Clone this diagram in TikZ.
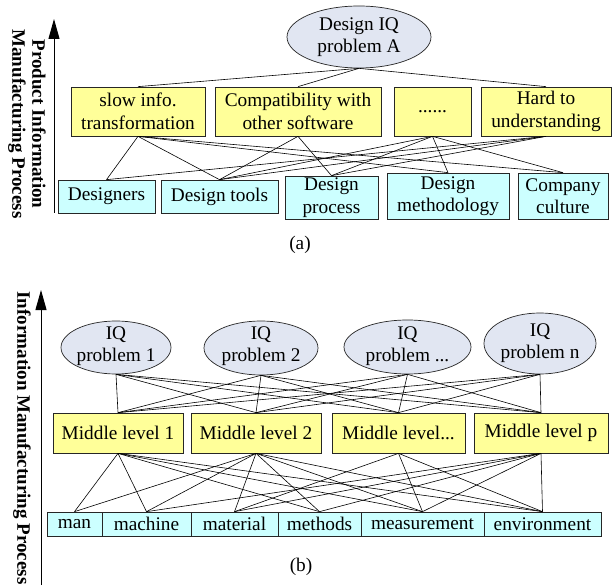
\documentclass[tikz,border=0pt]{standalone}
\usepackage{fontspec}
\setmainfont{Liberation Serif}
\usetikzlibrary{shapes.geometric,arrows.meta,shadows}
\definecolor{yelfill}{RGB}{255,255,153}
\definecolor{cyanfill}{RGB}{204,255,255}
\definecolor{ellfill}{RGB}{225,230,242}
\newcommand\mynf{\fontsize{19.3}{22.5}\selectfont}
\newcommand\mybf{\fontsize{19}{20}\selectfont\bfseries}
\tikzset{
  boxshadow/.style={drop shadow={shadow xshift=1.2pt,shadow yshift=-1.2pt,fill=black!55,opacity=0.7}},
  ybox/.style={draw=black!85,line width=0.7pt,fill=yelfill,inner sep=0pt,align=center,font=\mynf,boxshadow},
  cbox/.style={draw=black!85,line width=0.7pt,fill=cyanfill,inner sep=0pt,align=center,font=\mynf,boxshadow},
  ellnode/.style={ellipse,draw=black!85,line width=0.7pt,fill=ellfill,inner sep=0pt},
  txt/.style={inner sep=0pt,align=center,font=\mynf},
  conn/.style={line width=0.6pt,black},
  axisarrow/.style={line width=1pt,-{Triangle[length=20pt,width=11pt]}},
  vlabel/.style={inner sep=0pt,align=center,font=\mybf,rotate=-90}
}
\begin{document}
\begin{tikzpicture}[x=1pt,y=-1pt]
\useasboundingbox (0,0) rectangle (613,588);
\fill[white] (0,0) rectangle (613,588);

% ---------- part (a) ----------
\coordinate (aA0) at (54,213);
\coordinate (aA1) at (54,19);
\draw[axisarrow] (aA0) -- (aA1);
\node[vlabel] (alab) at (27,124) {Product Information\\Manufacturing Process};

\node[ellnode,minimum width=144pt,minimum height=62pt] (A) at (359,37) {};
\node[txt] (Atxt) at (359,37) {Design IQ\\problem A};

\node[ybox,minimum width=134pt,minimum height=49pt] (Y1) at (138,111.5) {slow info.\\transformation};
\node[ybox,minimum width=166pt,minimum height=49pt] (Y2) at (298,111.5) {Compatibility with\\other software};
\node[ybox,minimum width=77pt,minimum height=49pt] (Y3) at (432.5,111.5) {......};
\node[ybox,minimum width=130pt,minimum height=49pt] (Y4) at (546,111.5) {Hard to\\understanding};

\node[cbox,minimum width=97pt,minimum height=33pt] (C1) at (106.5,196.5) {Designers};
\node[cbox,minimum width=117pt,minimum height=33pt] (C2) at (219.5,196.5) {Design tools};
\node[cbox,minimum width=93pt,minimum height=43pt] (C3) at (331.5,197.5) {Design\\process};
\node[cbox,minimum width=122pt,minimum height=46pt] (C4) at (448,196) {Design\\methodology};
\node[cbox,minimum width=90pt,minimum height=46pt] (C5) at (563,196) {Company\\culture};

\foreach \y in {Y1,Y2,Y4} \draw[conn] (A.south) -- (\y.north);
\foreach \c in {C1,C2,C4,C5} \draw[conn] (Y1.south) -- (\c.north);
\foreach \c in {C2,C3} \draw[conn] (Y2.south) -- (\c.north);
\foreach \c in {C2,C3,C4,C5} \draw[conn] (Y3.south) -- (\c.north);
\foreach \c in {C1,C2,C3} \draw[conn] (Y4.south) -- (\c.north);

\node[txt] (acap) at (300,245) {(a)};

% ---------- part (b) ----------
\coordinate (bA0) at (41,585);
\coordinate (bA1) at (41,290);
\draw[axisarrow] (bA0) -- (bA1);
\node[vlabel] (blab) at (22,438) {Information Manufacturing Process};

\node[ellnode,minimum width=110pt,minimum height=53pt] (E1) at (116,347.5) {};
\node[ellnode,minimum width=114pt,minimum height=54pt] (E2) at (261,348) {};
\node[ellnode,minimum width=127pt,minimum height=54pt] (E3) at (407.5,347) {};
\node[ellnode,minimum width=112pt,minimum height=61pt] (E4) at (540,343.5) {};
\node[txt] (E1t) at (116,346) {IQ\\problem 1};
\node[txt] (E2t) at (261,346) {IQ\\problem 2};
\node[txt] (E3t) at (407.5,346) {IQ\\problem ...};
\node[txt] (E4t) at (540,343) {IQ\\problem n};

\node[ybox,minimum width=130pt,minimum height=40pt] (M1) at (118,433) {Middle level 1};
\node[ybox,minimum width=130pt,minimum height=40pt] (M2) at (256,433) {Middle level 2};
\node[ybox,minimum width=133pt,minimum height=40pt] (M3) at (398.5,433) {Middle level...};
\node[ybox,minimum width=134pt,minimum height=40pt] (M4) at (541,433) {Middle level p};

\node[cbox,minimum width=55pt,minimum height=24pt] (B1) at (74.5,524) {man};
\node[cbox,minimum width=89pt,minimum height=24pt] (B2) at (146.5,524) {machine};
\node[cbox,minimum width=87pt,minimum height=24pt] (B3) at (234.5,524) {material};
\node[cbox,minimum width=83pt,minimum height=24pt] (B4) at (319.5,524) {methods};
\node[cbox,minimum width=123pt,minimum height=24pt] (B5) at (422.5,524) {measurement};
\node[cbox,minimum width=117pt,minimum height=24pt] (B6) at (542.5,524) {environment};

\foreach \e in {E1,E2,E3,E4}
  \foreach \m in {M1,M2,M3,M4}
    \draw[conn] (\e.south) -- (\m.north);

\foreach \b in {B1,B2,B4,B5,B6} \draw[conn] (M1.south) -- (\b.north);
\foreach \b in {B1,B2,B3,B4,B5,B6} \draw[conn] (M2.south) -- (\b.north);
\foreach \b in {B3,B5,B6} \draw[conn] (M3.south) -- (\b.north);
\foreach \b in {B2,B3,B4,B5,B6} \draw[conn] (M4.south) -- (\b.north);

\node[txt] (bcap) at (301,567) {(b)};
\end{tikzpicture}
\end{document}
